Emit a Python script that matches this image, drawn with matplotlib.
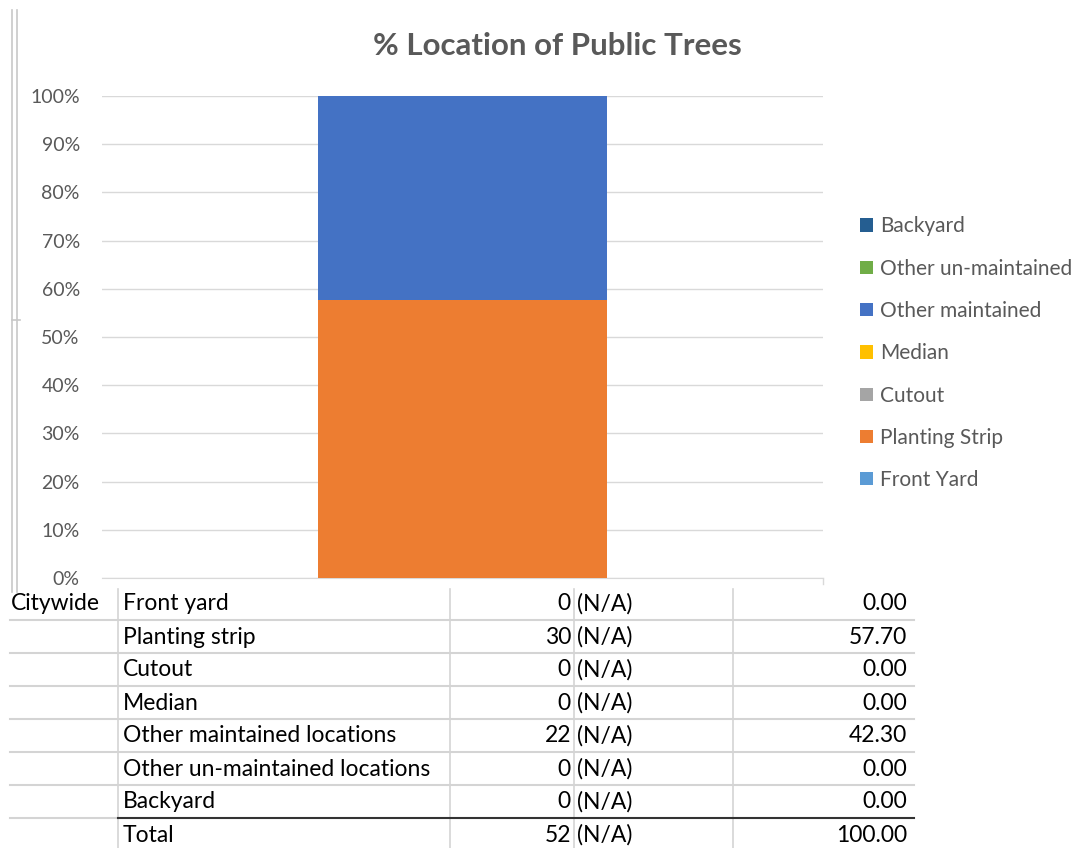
import matplotlib.pyplot as plt
from matplotlib.lines import Line2D
from matplotlib.patches import Patch
from matplotlib.ticker import PercentFormatter

plt.rcParams['font.family'] = ['Lato', 'DejaVu Sans']

# data
series = ['Front Yard', 'Planting Strip', 'Cutout', 'Median',
          'Other maintained', 'Other un-maintained', 'Backyard']
colors = ['#5B9BD5', '#ED7D31', '#A5A5A5', '#FFC000',
          '#4472C4', '#70AD47', '#255E91']
row_labels = ['Front yard', 'Planting strip', 'Cutout', 'Median',
              'Other maintained locations', 'Other un-maintained locations',
              'Backyard']
counts = [0, 30, 0, 0, 22, 0, 0]
pcts = [0.00, 57.70, 0.00, 0.00, 42.30, 0.00, 0.00]
total_count = 52
total_pct = 100.00

W, H = 1078, 848
fig = plt.figure(figsize=(W / 100, H / 100), dpi=100)

grey_txt = '#595959'
tfs = 16.5  # table font size

# chart
ax = fig.add_axes([102 / W, (H - 578) / H, 721 / W, 482 / H])
bottom = 0
for name, val, col in zip(series, pcts, colors):
    ax.bar(0, val / 100, bottom=bottom, width=0.4, color=col, label=name, zorder=3)
    bottom += val / 100
ax.set_xlim(-0.5, 0.5)
ax.set_ylim(0, 1)
ax.set_yticks([i / 10 for i in range(11)])
ax.yaxis.set_major_formatter(PercentFormatter(1.0, decimals=0))
ax.set_xticks([])
ax.grid(axis='y', color='#D9D9D9', lw=1, zorder=0)
for s in ['top', 'right', 'left']:
    ax.spines[s].set_visible(False)
ax.spines['bottom'].set_color('#D9D9D9')
ax.tick_params(axis='y', length=0, pad=16, labelsize=14, labelcolor=grey_txt)

fig.text(557 / W, 1 - 46 / H, '% Location of Public Trees', ha='center', va='center',
         fontsize=22.5, fontweight='bold', color=grey_txt)

handles = [Patch(facecolor=c, edgecolor='none') for c in colors][::-1]
fig.legend(handles, series[::-1], loc='upper left',
           bbox_to_anchor=(850 / W, 1 - 206 / H), frameon=False,
           fontsize=15, labelcolor=grey_txt, handlelength=0.6, handleheight=0.6,
           handletextpad=0.35, labelspacing=1.07, borderpad=0)

# overlay for table and sheet borders
ov = fig.add_axes([0, 0, 1, 1], zorder=-1)
ov.set_xlim(0, W)
ov.set_ylim(H, 0)
ov.axis('off')
ov.patch.set_alpha(0)

ov.add_line(Line2D([12, 12], [10, 592], color='#C8C8C8', lw=1.2))
ov.add_line(Line2D([17, 17], [10, 592], color='#C8C8C8', lw=1.2))
ov.add_line(Line2D([12, 20], [320, 320], color='#C8C8C8', lw=1.2))
ov.add_line(Line2D([823, 823], [578, 584], color='#D9D9D9', lw=1))

row_h = 33
y0 = 604
for x in [118, 450, 574, 733]:
    ov.add_line(Line2D([x, x], [589, H], color='#D4D4D4', lw=1.2))
for i in range(len(row_labels)):
    y = y0 + i * row_h
    if i < len(row_labels) - 1:
        ov.add_line(Line2D([10, 914], [y + 16, y + 16], color='#D4D4D4', lw=1.5))
    ov.text(123, y, row_labels[i], ha='left', va='center', fontsize=tfs, color='black')
    ov.text(571, y, f'{counts[i]}', ha='right', va='center', fontsize=tfs, color='black')
    ov.text(577, y, '(N/A)', ha='left', va='center', fontsize=tfs, color='black')
    ov.text(907, y, f'{pcts[i]:.2f}', ha='right', va='center', fontsize=tfs, color='black')
ov.add_line(Line2D([10, 118], [y0 + 6 * row_h + 16] * 2, color='#D4D4D4', lw=1.5))
ov.add_line(Line2D([118, 914], [y0 + 6 * row_h + 16] * 2, color='#333333', lw=1.5))
ov.text(11, y0, 'Citywide', ha='left', va='center', fontsize=tfs, color='black')
yt = y0 + 7 * row_h
ov.text(123, yt, 'Total', ha='left', va='center', fontsize=tfs, color='black')
ov.text(571, yt, f'{total_count}', ha='right', va='center', fontsize=tfs, color='black')
ov.text(577, yt, '(N/A)', ha='left', va='center', fontsize=tfs, color='black')
ov.text(907, yt, f'{total_pct:.2f}', ha='right', va='center', fontsize=tfs, color='black')

fig.savefig('out.png', dpi=100)
